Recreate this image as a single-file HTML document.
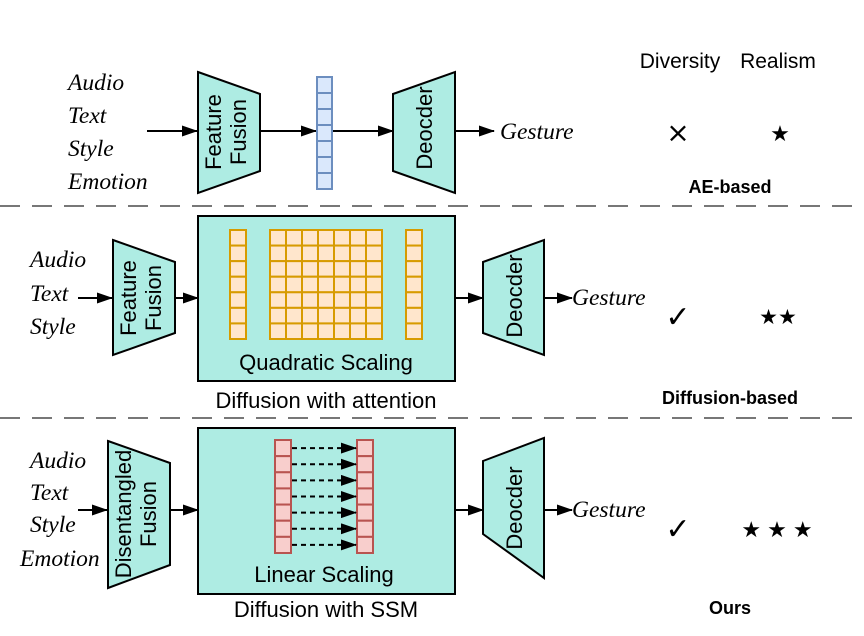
<!DOCTYPE html>
<html><head><meta charset="utf-8"><style>
html,body{margin:0;padding:0;background:#fff}
svg{display:block}
.it{font-family:"Liberation Serif",serif;font-style:italic;font-size:23.5px;fill:#000}
.sa{font-family:"Liberation Sans",sans-serif;fill:#000}
</style></head><body>
<svg id="s" width="864" height="636" viewBox="0 0 864 636" xmlns="http://www.w3.org/2000/svg">
<defs><marker id="ah" markerWidth="11" markerHeight="9" refX="10" refY="4.5" orient="auto" markerUnits="userSpaceOnUse"><path d="M0,0L11,4.5L0,9z" fill="#000"/></marker>
<marker id="ah2" markerWidth="16" markerHeight="11" refX="15" refY="5.5" orient="auto" markerUnits="userSpaceOnUse"><path d="M0,0L16,5.5L0,11z" fill="#000"/></marker></defs>
<g stroke="#000" stroke-width="2" fill="none">
<line x1="147" y1="131" x2="197" y2="131" marker-end="url(#ah2)"/>
<line x1="260" y1="131" x2="316" y2="131" marker-end="url(#ah2)"/>
<line x1="332" y1="131" x2="393" y2="131" marker-end="url(#ah2)"/>
<line x1="455" y1="131" x2="494" y2="131" marker-end="url(#ah2)"/>
<line x1="78" y1="298" x2="112" y2="298" marker-end="url(#ah2)"/>
<line x1="175" y1="298" x2="198" y2="298" marker-end="url(#ah2)"/>
<line x1="455" y1="298" x2="483" y2="298" marker-end="url(#ah2)"/>
<line x1="544" y1="298" x2="572" y2="298" marker-end="url(#ah2)"/>
<line x1="248" y1="289" x2="270" y2="289" marker-end="url(#ah)"/>
<line x1="384" y1="289" x2="406" y2="289" marker-end="url(#ah)"/>
<line x1="78" y1="510" x2="107" y2="510" marker-end="url(#ah2)"/>
<line x1="170" y1="510" x2="198" y2="510" marker-end="url(#ah2)"/>
<line x1="455" y1="510" x2="483" y2="510" marker-end="url(#ah2)"/>
<line x1="544" y1="510" x2="572" y2="510" marker-end="url(#ah2)"/>
</g>
<g stroke="#777" stroke-width="2" stroke-dasharray="20 12">
<line x1="0" y1="206" x2="864" y2="206"/>
<line x1="0" y1="418" x2="864" y2="418"/>
</g>
<g stroke="#000" stroke-width="2" fill="#aeece3">
<polygon points="198,72 260,94 260,171 198,193"/>
<polygon points="393,94 455,72 455,193 393,171"/>
<polygon points="113,240 175,262 175,333 113,355"/>
<rect x="198" y="216" width="257" height="165"/>
<polygon points="483,262 544,240 544,355 483,333"/>
<polygon points="108,441 170,463 170,565 108,588"/>
<rect x="198" y="428" width="257" height="166"/>
<polygon points="483,461 544,438 544,578 483,534"/>
</g>
<g id="cells"></g>
<g class="sa" font-size="22">
<text transform="translate(221,132) rotate(-90)" text-anchor="middle">Feature</text>
<text transform="translate(246,132) rotate(-90)" text-anchor="middle">Fusion</text>
<text transform="translate(432,128) rotate(-90)" text-anchor="middle">Deocder</text>
<text transform="translate(136,298) rotate(-90)" text-anchor="middle">Feature</text>
<text transform="translate(161,298) rotate(-90)" text-anchor="middle">Fusion</text>
<text transform="translate(522,296) rotate(-90)" text-anchor="middle">Deocder</text>
<text transform="translate(131,514) rotate(-90)" text-anchor="middle">Disentangled</text>
<text transform="translate(156,514) rotate(-90)" text-anchor="middle">Fusion</text>
<text transform="translate(522,508) rotate(-90)" text-anchor="middle">Deocder</text>
<text x="326" y="370" text-anchor="middle">Quadratic Scaling</text>
<text x="326" y="408" text-anchor="middle">Diffusion with attention</text>
<text x="324" y="582" text-anchor="middle">Linear Scaling</text>
<text x="326" y="617" text-anchor="middle">Diffusion with SSM</text>
<text x="680" y="68" text-anchor="middle" font-size="21">Diversity</text>
<text x="778" y="68" text-anchor="middle" font-size="21">Realism</text>
<text x="730" y="193" text-anchor="middle" font-size="18" font-weight="bold">AE-based</text>
<text x="730" y="404" text-anchor="middle" font-size="18" font-weight="bold">Diffusion-based</text>
<text x="730" y="614" text-anchor="middle" font-size="18" font-weight="bold">Ours</text>
</g>
<g class="it">
<text x="68" y="90">Audio</text><text x="68" y="123">Text</text><text x="68" y="156">Style</text><text x="68" y="189">Emotion</text>
<text x="500" y="139">Gesture</text>
<text x="30" y="267">Audio</text><text x="30" y="301">Text</text><text x="30" y="334">Style</text>
<text x="572" y="305">Gesture</text>
<text x="30" y="468">Audio</text><text x="30" y="500">Text</text><text x="30" y="532">Style</text><text x="20" y="566">Emotion</text>
<text x="572" y="517">Gesture</text>
</g>
<g font-family="DejaVu Sans,sans-serif" text-anchor="middle" fill="#000">
<text x="678" y="142" font-size="28">×</text>
<text x="780" y="141" font-size="22">★</text>
<text x="678" y="327" font-size="30">✓</text>
<text x="778" y="324" font-size="21">★★</text>
<text x="678" y="539" font-size="30">✓</text>
<text x="780" y="537" font-size="22" letter-spacing="6">★★★</text>
</g>
</svg>
<script>
const NS="http://www.w3.org/2000/svg";
const g=document.getElementById('cells');
function col(x,y,w,h,n,cols,fill,stroke,name){
  const cw=w/cols,ch=h/n;
  for(let r=0;r<n;r++)for(let c=0;c<cols;c++){
    const e=document.createElementNS(NS,'rect');
    e.setAttribute('x',x+c*cw);e.setAttribute('y',y+r*ch);
    e.setAttribute('width',cw);e.setAttribute('height',ch);
    e.setAttribute('fill',fill);e.setAttribute('stroke',stroke);e.setAttribute('stroke-width','2');
    
    
    g.appendChild(e);
  }
}
col(317,77,15,112,7,1,'#dae8fc','#6c8ebf','latent-cell');
col(230,230,16,109,7,1,'#ffe6cc','#d79b00','attention-input-cell');
col(270,230,112,109,7,7,'#ffe6cc','#d79b00','attention-matrix-cell');
col(406,230,16,109,7,1,'#ffe6cc','#d79b00','attention-output-cell');
col(275,440,16,113,7,1,'#f8cecc','#b85450','ssm-input-cell');
col(357,440,16,113,7,1,'#f8cecc','#b85450','ssm-output-cell');
for(let r=0;r<7;r++){
  const y=440+113/7*(r+0.5);
  const l=document.createElementNS(NS,'line');
  l.setAttribute('x1',292);l.setAttribute('x2',356);l.setAttribute('y1',y);l.setAttribute('y2',y);
  l.setAttribute('stroke','#000');l.setAttribute('stroke-width','2');l.setAttribute('stroke-dasharray','5 4');
  l.setAttribute('marker-end','url(#ah2)');
  
  
  g.appendChild(l);
}
</script>
</body></html>
